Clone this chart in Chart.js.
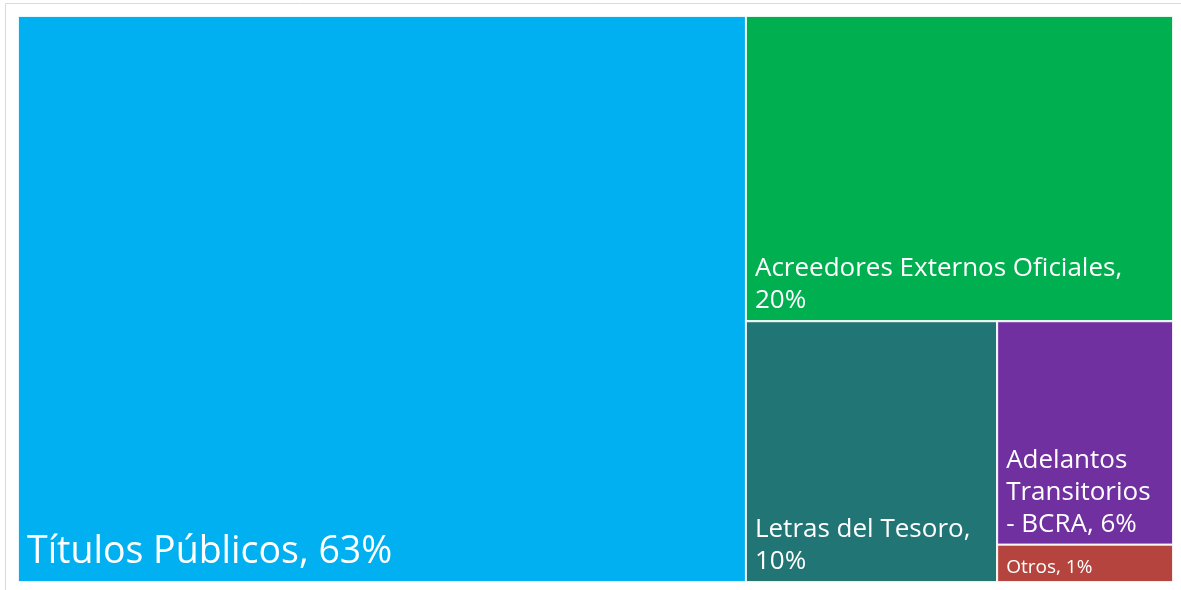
<!DOCTYPE html>
<html>
<head>
<meta charset="utf-8">
<script src="https://cdn.jsdelivr.net/npm/chart.js@4/dist/chart.umd.min.js"></script>
<style>
  html, body { margin: 0; padding: 0; background: #fff; }
</style>
</head>
<body>
<canvas id="deuda" width="1181" height="590"></canvas>
<script>
const categories = ['Títulos Públicos', 'Acreedores Externos Oficiales', 'Letras del Tesoro', 'Adelantos Transitorios - BCRA', 'Otros'];
const shares = [62.9, 19.9, 10.0, 6.0, 1.0];
const cellColors = ['#00B0F0', '#00B050', '#217575', '#7030A0', '#B5443E'];
const labelSizes = [37.5, 26, 26, 26, 19];

const FONT = '"Open Sans", sans-serif';

// squarified layout, worked out in data units (0..100 on both axes)
// kx / ky = pixels per unit so the aspect ratios are judged on screen
function squarify(vals, kx, ky) {
  const out = [];
  let x = 0, y = 0, w = 100, h = 100;
  let rest = vals.map((v, i) => ({ v, i }));
  while (rest.length) {
    const remSum = rest.reduce((a, b) => a + b.v, 0);
    const column = w * kx >= h * ky;
    const worst = (row) => {
      const s = row.reduce((a, b) => a + b.v, 0);
      let m = 0;
      row.forEach(r => {
        let pw, ph;
        if (column) { pw = s / remSum * w * kx; ph = r.v / s * h * ky; }
        else { pw = r.v / s * w * kx; ph = s / remSum * h * ky; }
        m = Math.max(m, pw / ph, ph / pw);
      });
      return m;
    };
    let row = [rest[0]];
    let k = 1;
    while (k < rest.length && worst(row.concat(rest[k])) <= worst(row)) {
      row.push(rest[k]);
      k++;
    }
    const s = row.reduce((a, b) => a + b.v, 0);
    if (column) {
      const cw = s / remSum * w;
      let yy = y + h;
      row.forEach(r => {
        const rh = r.v / s * h;
        out[r.i] = { x0: x, x1: x + cw, y0: yy - rh, y1: yy };
        yy -= rh;
      });
      x += cw; w -= cw;
    } else {
      const rh = s / remSum * h;
      let xx = x;
      row.forEach(r => {
        const rw = r.v / s * w;
        out[r.i] = { x0: xx, x1: xx + rw, y0: y + h - rh, y1: y + h };
        xx += rw;
      });
      h -= rh;
    }
    rest = rest.slice(k);
  }
  return out;
}

function wrap(ctx, text, maxW) {
  const words = text.split(' ');
  const lines = [];
  let cur = '';
  words.forEach(wd => {
    const t = cur ? cur + ' ' + wd : wd;
    if (cur && ctx.measureText(t).width > maxW) {
      lines.push(cur);
      cur = wd;
    } else {
      cur = t;
    }
  });
  if (cur) lines.push(cur);
  return lines;
}

const treemapPlugin = {
  id: 'treemap',
  beforeDraw(chart) {
    const ctx = chart.ctx;
    ctx.save();
    ctx.strokeStyle = '#d9d9d9';
    ctx.lineWidth = 1;
    ctx.beginPath();
    ctx.moveTo(5.5, 590);
    ctx.lineTo(5.5, 3.5);
    ctx.lineTo(1181, 3.5);
    ctx.stroke();
    ctx.restore();
  },
  afterDatasetsDraw(chart) {
    const ctx = chart.ctx;
    const xs = chart.scales.x, ys = chart.scales.y;
    const kx = Math.abs(xs.getPixelForValue(100) - xs.getPixelForValue(0)) / 100;
    const ky = Math.abs(ys.getPixelForValue(100) - ys.getPixelForValue(0)) / 100;
    const total = shares.reduce((a, b) => a + b, 0);
    const cells = squarify(shares, kx, ky);
    ctx.save();
    cells.forEach((c, i) => {
      const left = xs.getPixelForValue(c.x0);
      const right = xs.getPixelForValue(c.x1);
      const top = ys.getPixelForValue(c.y1);
      const bottom = ys.getPixelForValue(c.y0);
      ctx.fillStyle = cellColors[i];
      ctx.fillRect(left, top, right - left, bottom - top);
      ctx.strokeStyle = 'rgba(255,255,255,0.9)';
      ctx.lineWidth = 2;
      ctx.strokeRect(left, top, right - left, bottom - top);

      const size = labelSizes[i];
      ctx.font = size + 'px ' + FONT;
      ctx.fillStyle = '#ffffff';
      ctx.textAlign = 'left';
      ctx.textBaseline = 'alphabetic';
      const label = categories[i] + ', ' + Math.round(shares[i] / total * 100) + '%';
      const lines = wrap(ctx, label, right - left - 18);
      const lh = size * 1.23;
      let base = bottom - size * 0.5;
      for (let j = lines.length - 1; j >= 0; j--) {
        ctx.fillText(lines[j], left + 9, base);
        base -= lh;
      }
    });
    ctx.restore();
  }
};

new Chart(document.getElementById('deuda'), {
  type: 'scatter',
  data: { datasets: [{ data: [] }] },
  options: {
    responsive: false,
    animation: false,
    layout: { padding: { left: 18, top: 16, right: 8, bottom: 8 } },
    plugins: { legend: { display: false }, tooltip: { enabled: false } },
    scales: {
      x: { min: 0, max: 100, display: false },
      y: { min: 0, max: 100, display: false }
    }
  },
  plugins: [treemapPlugin]
});
</script>
</body>
</html>
